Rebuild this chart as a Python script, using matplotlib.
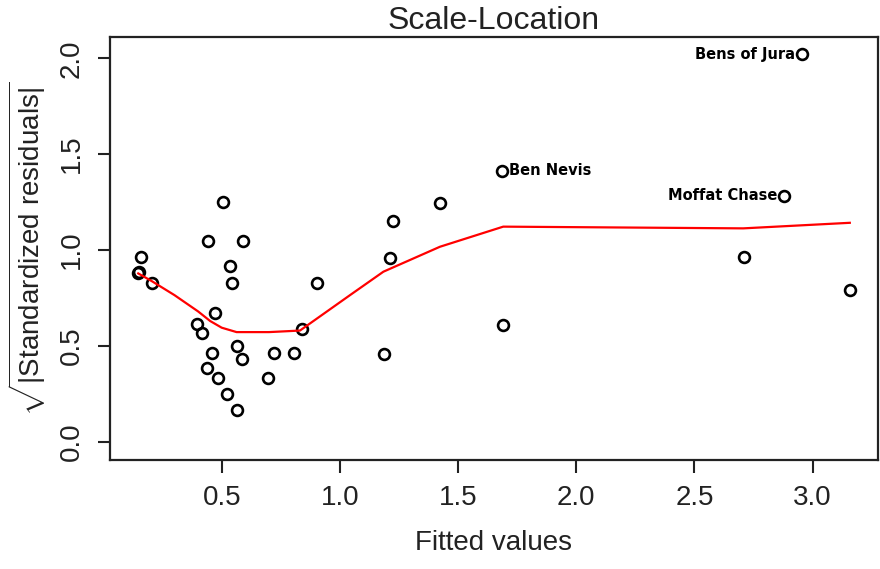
import matplotlib
matplotlib.use("Agg")
import matplotlib.pyplot as plt

plt.rcParams['font.family'] = ['Liberation Sans', 'DejaVu Sans']
plt.rcParams['mathtext.fontset'] = 'custom'
plt.rcParams['mathtext.rm'] = 'Liberation Sans'
plt.rcParams['mathtext.it'] = 'Liberation Sans'

# fitted values and sqrt(|standardized residuals|)
fitted = [0.507, 0.443, 0.589, 0.157, 0.535, 0.147, 0.152, 0.204, 0.545,
          0.902, 0.472, 0.397, 0.418, 0.838, 0.563, 0.458, 0.585, 0.721,
          0.806, 0.437, 0.486, 0.695, 0.524, 0.563, 1.423, 1.223, 1.212,
          1.186, 1.691, 1.684, 2.880, 2.709, 3.157, 2.955]
sqrt_resid = [1.249, 1.047, 1.047, 0.962, 0.917, 0.878, 0.885, 0.826, 0.826,
              0.826, 0.670, 0.614, 0.565, 0.588, 0.501, 0.464, 0.431, 0.461,
              0.461, 0.383, 0.331, 0.331, 0.249, 0.165, 1.244, 1.153, 0.957,
              0.457, 0.609, 1.414, 1.283, 0.965, 0.792, 2.022]

# smoother (red line)
smooth_x = [0.147, 0.204, 0.300, 0.400, 0.451, 0.500, 0.563, 0.700, 0.831,
            1.043, 1.184, 1.423, 1.691, 2.706, 3.157]
smooth_y = [0.878, 0.838, 0.765, 0.680, 0.630, 0.595, 0.572, 0.572, 0.580,
            0.765, 0.887, 1.017, 1.122, 1.113, 1.142]

# labelled points
labels = ["Ben Nevis", "Moffat Chase", "Bens of Jura"]
label_x = [1.684, 2.880, 2.955]
label_y = [1.414, 1.283, 2.022]
label_side = ["right", "left", "left"]

fig = plt.figure(figsize=(8.8, 5.69), dpi=100)
ax = fig.add_axes([110 / 880, 1 - 460 / 569, (877.7 - 110) / 880, (460 - 37) / 569])

ax.plot(fitted, sqrt_resid, linestyle='none', marker='o', markersize=7.8,
        markerfacecolor='none', markeredgecolor='black', markeredgewidth=1.9)
ax.plot(smooth_x, smooth_y, color='red', linewidth=1.6)

for txt, x, y, side in zip(labels, label_x, label_y, label_side):
    if side == "right":
        ax.annotate(txt, (x, y), xytext=(5, 0), textcoords='offset points',
                    ha='left', va='center', fontsize=10.5, fontweight='bold',
                    family='DejaVu Sans')
    else:
        ax.annotate(txt, (x, y), xytext=(-5, 0), textcoords='offset points',
                    ha='right', va='center', fontsize=10.5, fontweight='bold',
                    family='DejaVu Sans')

ax.set_xlim(0.0275, 3.275)
ax.set_ylim(-0.095, 2.111)
ax.set_xticks([0.5, 1.0, 1.5, 2.0, 2.5, 3.0])
ax.set_yticks([0.0, 0.5, 1.0, 1.5, 2.0])
ax.set_xticklabels(["0.5", "1.0", "1.5", "2.0", "2.5", "3.0"])
ax.set_yticklabels(["0.0", "0.5", "1.0", "1.5", "2.0"], rotation=90, va='center')
ax.tick_params(direction='out', length=9, width=1.5, labelsize=20, pad=9,
               colors='#222222', labelcolor='#222222')

for sp in ax.spines.values():
    sp.set_linewidth(1.6)
    sp.set_color('#222222')

ax.set_title("Scale-Location", fontsize=23, pad=6, color='#222222')
ax.set_xlabel("Fitted values", fontsize=20, labelpad=14, color='#222222')
ax.set_ylabel(r"$\sqrt{|\mathrm{Standardized\ residuals}|}$", fontsize=20,
              labelpad=8, color='#222222')

fig.savefig("out.png", dpi=100)
